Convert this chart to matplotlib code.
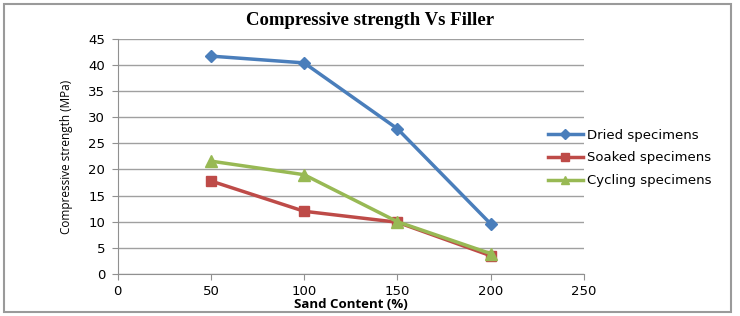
import matplotlib.pyplot as plt
from matplotlib.patches import Rectangle

sand = [50, 100, 150, 200]
dried = [41.7, 40.4, 27.8, 9.6]
soaked = [17.8, 12.0, 9.9, 3.5]
cycling = [21.6, 19.0, 10.0, 3.9]

fig = plt.figure(figsize=(7.4, 3.16), dpi=100)
ax = fig.add_axes([0.159, 0.133, 0.63, 0.744])

ax.plot(sand, dried, color='#4a7ebb', marker='D', markersize=6, linewidth=2.5, label='Dried specimens')
ax.plot(sand, soaked, color='#be4b48', marker='s', markersize=7, linewidth=2.5, label='Soaked specimens')
ax.plot(sand, cycling, color='#98b954', marker='^', markersize=8, linewidth=2.5, label='Cycling specimens')

ax.set_xlim(0, 250)
ax.set_ylim(0, 45)
ax.set_xticks(range(0, 251, 50))
ax.set_yticks(range(0, 46, 5))
ax.grid(axis='y', color='#a0a0a0', linewidth=1)
ax.set_axisbelow(True)
for s in ['top', 'right']:
    ax.spines[s].set_visible(False)
for s in ['left', 'bottom']:
    ax.spines[s].set_color('#909090')
ax.tick_params(colors='#909090', labelcolor='black', labelsize=9.5, length=4, pad=5)
ax.tick_params(axis='x', pad=4)

ax.set_xlabel('Sand Content (%)', fontsize=9.5, fontweight='bold', family='Open Sans', labelpad=0)
ax.set_ylabel('Compressive strength (MPa)', fontsize=8.5, family='Open Sans', labelpad=11)
fig.text(0.5, 0.935, 'Compressive strength Vs Filler', fontsize=13.5, fontweight='bold',
         family='Liberation Serif', ha='center', va='center')

ax.legend(loc='center left', bbox_to_anchor=(0.732, 0.5), bbox_transform=fig.transFigure,
          frameon=False, handlelength=2.6, handletextpad=0.35, labelspacing=0.75,
          borderpad=0, markerscale=0.8, prop={'family': 'DejaVu Sans', 'size': 9.5})

fig.patches.append(Rectangle((0.006, 0.012), 0.982, 0.975, transform=fig.transFigure,
                             fill=False, edgecolor='#9a9a9a', linewidth=1.5))

fig.savefig('out.png', dpi=100)
